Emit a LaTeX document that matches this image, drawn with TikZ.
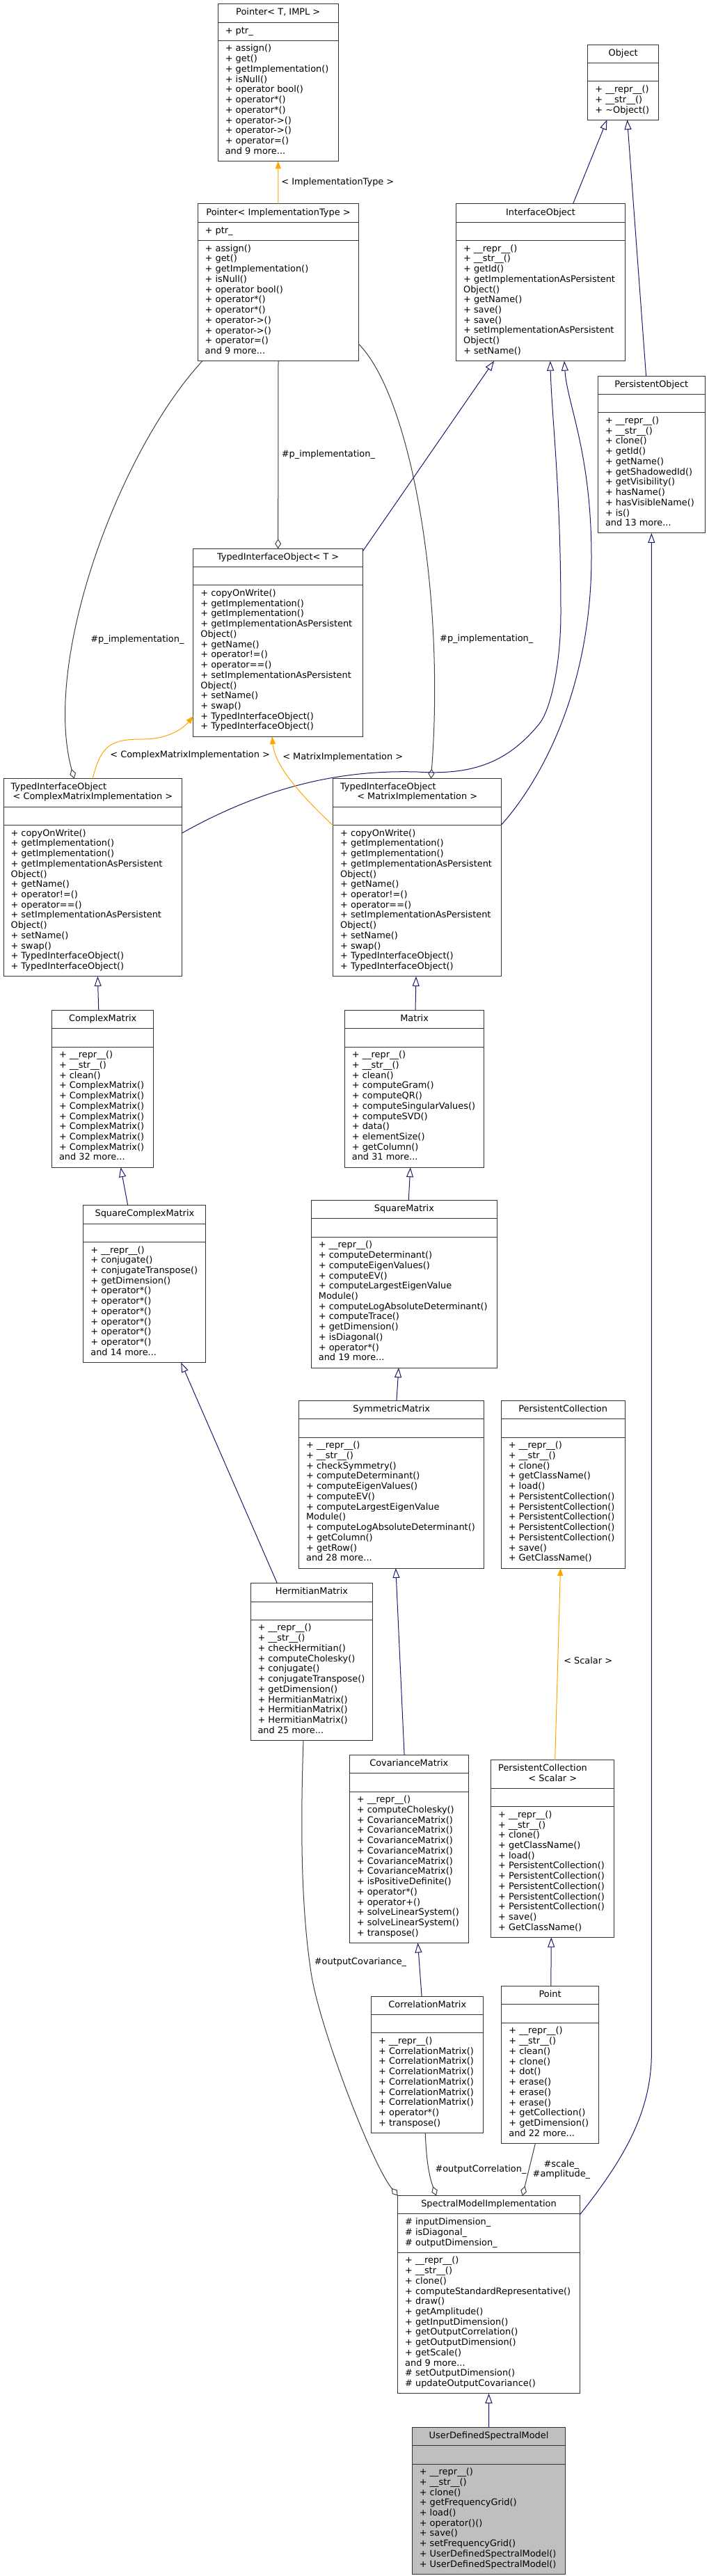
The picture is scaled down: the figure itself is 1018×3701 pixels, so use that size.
\documentclass[tikz,border=0pt]{standalone}
\usepackage{fontspec}
\setmainfont{DejaVu Sans}
\usetikzlibrary{arrows.meta,shapes.multipart,calc}
\definecolor{inhblue}{HTML}{191970}
\definecolor{tmplorange}{HTML}{FFA500}
\definecolor{usegray}{HTML}{404040}
\definecolor{boxline}{HTML}{333333}
\definecolor{rootfill}{HTML}{BFBFBF}
\begin{document}
\begin{tikzpicture}[x=1bp, y=-1bp, font=\fontsize{12.9bp}{14.73bp}\selectfont,
    cls/.style={rectangle split, rectangle split parts=3, rectangle split part align={center,left,left},
      draw=boxline, line width=1bp, fill=white, align=left, inner xsep=10.5bp, inner ysep=5.3bp,
      outer sep=0pt, anchor=north west, execute at begin node=\strut},
    inh/.style={draw=inhblue, line width=1bp, -{Triangle[open, length=14bp, width=10bp]}},
    tmpl/.style={draw=tmplorange, line width=1bp, -{Triangle[length=11bp, width=8bp]}},
    usage/.style={draw=usegray, line width=1bp, -{Diamond[open, length=14bp, width=9bp]}},
    lbl/.style={inner sep=0pt}]
\path[use as bounding box, fill=white] (0,0) rectangle (1018,3701);

\node[cls, minimum width=172.9bp] (ptrT) at (313.3,5.7) {Pointer< T, IMPL >\nodepart{two}+ ptr\_\nodepart{three}+ assign()\\
  + get()\\ + getImplementation()\\ + isNull()\\ + operator bool()\\ + operator*()\\ + operator*()\\
  + operator->()\\ + operator->()\\ + operator=()\\ and 9 more...\strut};
\node[cls, minimum width=101.5bp] (obj) at (844.9,64.3) {Object\nodepart{two}\nodepart{three}+ \_\_repr\_\_()\\
  + \_\_str\_\_()\\ + \textasciitilde Object()\strut};
\node[cls, minimum width=231.6bp] (ptrI) at (284.2,292.9) {Pointer< ImplementationType >\nodepart{two}+ ptr\_\nodepart{three}+ assign()\\
  + get()\\ + getImplementation()\\ + isNull()\\ + operator bool()\\ + operator*()\\ + operator*()\\
  + operator->()\\ + operator->()\\ + operator=()\\ and 9 more...\strut};
\node[cls, minimum width=242.9bp] (iobj) at (655.6,292.9) {InterfaceObject\nodepart{two}\nodepart{three}+ \_\_repr\_\_()\\
  + \_\_str\_\_()\\ + getId()\\ + getImplementationAsPersistent\\ Object()\\ + getName()\\ + save()\\ + save()\\
  + setImplementationAsPersistent\\ Object()\\ + setName()\strut};
\node[cls, minimum width=153.7bp] (pobj) at (859.5,540.2) {PersistentObject\nodepart{two}\nodepart{three}+ \_\_repr\_\_()\\
  + \_\_str\_\_()\\ + clone()\\ + getId()\\ + getName()\\ + getShadowedId()\\ + getVisibility()\\ + hasName()\\
  + hasVisibleName()\\ + is()\\ and 13 more...\strut};
\node[cls, minimum width=243.5bp] (tioT) at (277.9,788.2) {TypedInterfaceObject< T >\nodepart{two}\nodepart{three}+ copyOnWrite()\\
  + getImplementation()\\ + getImplementation()\\ + getImplementationAsPersistent\\ Object()\\ + getName()\\
  + operator!=()\\ + operator==()\\ + setImplementationAsPersistent\\ Object()\\ + setName()\\ + swap()\\
  + TypedInterfaceObject()\\ + TypedInterfaceObject()\strut};
\node[cls, minimum width=256.6bp] (tioC) at (5.1,1118.6) {\makebox[235.6bp][l]{TypedInterfaceObject}\\
  \makebox[235.6bp][c]{< ComplexMatrixImplementation >}\strut\nodepart{two}\nodepart{three}+ copyOnWrite()\\
  + getImplementation()\\ + getImplementation()\\ + getImplementationAsPersistent\\ Object()\\ + getName()\\
  + operator!=()\\ + operator==()\\ + setImplementationAsPersistent\\ Object()\\ + setName()\\ + swap()\\
  + TypedInterfaceObject()\\ + TypedInterfaceObject()\strut};
\node[cls, minimum width=242.3bp] (tioM) at (478.6,1118.6) {\makebox[221.3bp][l]{TypedInterfaceObject}\\
  \makebox[221.3bp][c]{< MatrixImplementation >}\strut\nodepart{two}\nodepart{three}+ copyOnWrite()\\
  + getImplementation()\\ + getImplementation()\\ + getImplementationAsPersistent\\ Object()\\ + getName()\\
  + operator!=()\\ + operator==()\\ + setImplementationAsPersistent\\ Object()\\ + setName()\\ + swap()\\
  + TypedInterfaceObject()\\ + TypedInterfaceObject()\strut};
\node[cls, minimum width=146.4bp] (cmat) at (74.5,1451.4) {ComplexMatrix\nodepart{two}\nodepart{three}+ \_\_repr\_\_()\\
  + \_\_str\_\_()\\ + clean()\\ + ComplexMatrix()\\ + ComplexMatrix()\\ + ComplexMatrix()\\ + ComplexMatrix()\\
  + ComplexMatrix()\\ + ComplexMatrix()\\ + ComplexMatrix()\\ and 32 more...\strut};
\node[cls, minimum width=200.5bp] (mat) at (495.4,1451.4) {Matrix\nodepart{two}\nodepart{three}+ \_\_repr\_\_()\\
  + \_\_str\_\_()\\ + clean()\\ + computeGram()\\ + computeQR()\\ + computeSingularValues()\\ + computeSVD()\\
  + data()\\ + elementSize()\\ + getColumn()\\ and 31 more...\strut};
\node[cls, minimum width=176bp] (scmat) at (119.9,1731.8) {SquareComplexMatrix\nodepart{two}\nodepart{three}+ \_\_repr\_\_()\\
  + conjugate()\\ + conjugateTranspose()\\ + getDimension()\\ + operator*()\\ + operator*()\\ + operator*()\\
  + operator*()\\ + operator*()\\ + operator*()\\ and 14 more...\strut};
\node[cls, minimum width=266.9bp] (smat) at (447.4,1724.6) {SquareMatrix\nodepart{two}\nodepart{three}+ \_\_repr\_\_()\\
  + computeDeterminant()\\ + computeEigenValues()\\ + computeEV()\\ + computeLargestEigenValue\\ Module()\\
  + computeLogAbsoluteDeterminant()\\ + computeTrace()\\ + getDimension()\\ + isDiagonal()\\ + operator*()\\
  and 19 more...\strut};
\node[cls, minimum width=266.3bp] (symat) at (429.6,2012.5) {SymmetricMatrix\nodepart{two}\nodepart{three}+ \_\_repr\_\_()\\
  + \_\_str\_\_()\\ + checkSymmetry()\\ + computeDeterminant()\\ + computeEigenValues()\\ + computeEV()\\
  + computeLargestEigenValue\\ Module()\\ + computeLogAbsoluteDeterminant()\\ + getColumn()\\ + getRow()\\
  and 28 more...\strut};
\node[cls, minimum width=177.7bp] (pcol) at (720.3,2012.5) {PersistentCollection\nodepart{two}\nodepart{three}+ \_\_repr\_\_()\\
  + \_\_str\_\_()\\ + clone()\\ + getClassName()\\ + load()\\ + PersistentCollection()\\ + PersistentCollection()\\
  + PersistentCollection()\\ + PersistentCollection()\\ + PersistentCollection()\\ + save()\\ + GetClassName()\strut};
\node[cls, minimum width=175.8bp] (hmat) at (360,2274.7) {HermitianMatrix\nodepart{two}\nodepart{three}+ \_\_repr\_\_()\\
  + \_\_str\_\_()\\ + checkHermitian()\\ + computeCholesky()\\ + conjugate()\\ + conjugateTranspose()\\
  + getDimension()\\ + HermitianMatrix()\\ + HermitianMatrix()\\ + HermitianMatrix()\\ and 25 more...\strut};
\node[cls, minimum width=170.8bp] (covmat) at (502.4,2521.5) {CovarianceMatrix\nodepart{two}\nodepart{three}+ \_\_repr\_\_()\\
  + computeCholesky()\\ + CovarianceMatrix()\\ + CovarianceMatrix()\\ + CovarianceMatrix()\\ + CovarianceMatrix()\\
  + CovarianceMatrix()\\ + CovarianceMatrix()\\ + isPositiveDefinite()\\ + operator*()\\ + operator+()\\
  + solveLinearSystem()\\ + solveLinearSystem()\\ + transpose()\strut};
\node[cls, minimum width=177.2bp] (pcolS) at (705.7,2528.8) {\makebox[156.2bp][l]{PersistentCollection}\\
  \makebox[156.2bp][c]{< Scalar >}\strut\nodepart{two}\nodepart{three}+ \_\_repr\_\_()\\
  + \_\_str\_\_()\\ + clone()\\ + getClassName()\\ + load()\\ + PersistentCollection()\\ + PersistentCollection()\\
  + PersistentCollection()\\ + PersistentCollection()\\ + PersistentCollection()\\ + save()\\ + GetClassName()\strut};
\node[cls, minimum width=161.2bp] (cormat) at (533.7,2868.2) {CorrelationMatrix\nodepart{two}\nodepart{three}+ \_\_repr\_\_()\\
  + CorrelationMatrix()\\ + CorrelationMatrix()\\ + CorrelationMatrix()\\ + CorrelationMatrix()\\
  + CorrelationMatrix()\\ + CorrelationMatrix()\\ + operator*()\\ + transpose()\strut};
\node[cls, minimum width=139.3bp] (pt) at (720.9,2853.6) {Point\nodepart{two}\nodepart{three}+ \_\_repr\_\_()\\
  + \_\_str\_\_()\\ + clean()\\ + clone()\\ + dot()\\ + erase()\\ + erase()\\ + erase()\\ + getCollection()\\
  + getDimension()\\ and 22 more...\strut};
\node[cls, minimum width=261.6bp] (smi) at (571.7,3154.6) {SpectralModelImplementation\nodepart{two}\# inputDimension\_\\
  \# isDiagonal\_\\ \# outputDimension\_\strut\nodepart{three}+ \_\_repr\_\_()\\
  + \_\_str\_\_()\\ + clone()\\ + computeStandardRepresentative()\\ + draw()\\ + getAmplitude()\\
  + getInputDimension()\\ + getOutputCorrelation()\\ + getOutputDimension()\\ + getScale()\\ and 9 more...\\
  \# setOutputDimension()\\ \# updateOutputCovariance()\strut};
\node[cls, minimum width=220.4bp, fill=rootfill] (udsm) at (592.3,3487.3) {UserDefinedSpectralModel\nodepart{two}\nodepart{three}+ \_\_repr\_\_()\\
  + \_\_str\_\_()\\ + clone()\\ + getFrequencyGrid()\\ + load()\\ + operator()()\\ + save()\\ + setFrequencyGrid()\\
  + UserDefinedSpectralModel()\\ + UserDefinedSpectralModel()\strut};

\draw[tmpl] (ptrI.north) -- (ptrT.south) node[midway, right=4bp, lbl]{< ImplementationType >};
\draw[inh] ($(iobj.north west)+(167.9,0)$) -- ($(obj.south west)+(27.5,0)$);
\draw[inh] ($(pobj.north west)+(69.1,0)$) -- ($(obj.south west)+(56.6,0)$);
\draw[usage] (ptrI.south) -- (tioT.north) node[midway, right=4.5bp, lbl]{\#p\_implementation\_};
\draw[usage] ($(ptrI.south west)+(6.6,0)$) .. controls (170,650) and (60,950) .. ($(tioC.north west)+(101.5,0)$)
    node[pos=0.67, right=23.5bp, lbl]{\#p\_implementation\_};
\draw[usage] ($(ptrI.north east)+(0,201.7)$) .. controls (590,570) and (640,850) .. ($(tioM.north west)+(140.8,0)$)
    node[pos=0.75, right=9.4bp, lbl]{\#p\_implementation\_};
\draw[inh] ($(tioT.north east)+(0,3.6)$) -- ($(iobj.south west)+(54.4,0)$);
\draw[inh] ($(tioC.north east)+(0,78.2)$) .. controls (390,1125) and (500,1106) .. (600,1109)
    .. controls (680,1114) and (730,1095) .. (775,1040) .. controls (790,1021.7) and (806,960) .. (806,880)
    .. controls (806,700) and (793,600) .. ($(iobj.south west)+(135.2,0)$);
\draw[inh] ($(tioM.north east)+(0,66)$) .. controls (770,1130) and (850,1000) .. (850,800)
    .. controls (850,650) and (815,580) .. ($(iobj.south west)+(155.4,0)$);
\draw[inh] ($(smi.north east)+(0,27.4)$) .. controls (890,3110) and (936.35,3040) .. (936.35,2950) -- (pobj.south);
\draw[inh] ($(cmat.north west)+(67.3,0)$) -- ($(tioC.south west)+(135.2,0)$);
\draw[inh] ($(mat.north west)+(101.6,0)$) -- ($(tioM.south west)+(119.4,0)$);
\draw[tmpl] ($(tioC.north west)+(128.1,0)$) .. controls (145,1070) and (160,1062) .. (205,1062)
    node[pos=0.3, right=12.5bp, lbl]{< ComplexMatrixImplementation >}
    .. controls (240,1062) and (262,1048) .. ($(tioT.north west)+(0,240.6)$);
\draw[tmpl] ($(tioM.north west)+(0,67.4)$) .. controls (430,1140) and (395,1100) .. ($(tioT.south west)+(113.1,0)$)
    node[pos=0.76, right=6.8bp, lbl]{< MatrixImplementation >};
\draw[inh] ($(scmat.north west)+(63.8,0)$) -- ($(cmat.south west)+(99,0)$);
\draw[inh] ($(smat.north west)+(139.8,0)$) -- ($(mat.south west)+(94.4,0)$);
\draw[inh] ($(symat.north west)+(140.3,0)$) -- ($(smat.south west)+(125.6,0)$);
\draw[inh] ($(hmat.north west)+(38.4,0)$) -- ($(scmat.south west)+(140.3,0)$);
\draw[inh] ($(covmat.north west)+(78.7,0)$) -- ($(symat.south west)+(139.2,0)$);
\draw[tmpl] ($(pcolS.north west)+(92,0)$) -- ($(pcol.south west)+(85.2,0)$) node[pos=0.52, right=8bp, lbl]{< Scalar >};
\draw[inh] ($(cormat.north west)+(72.4,0)$) -- ($(covmat.south west)+(98.1,0)$);
\draw[inh] ($(pt.north west)+(70.9,0)$) -- ($(pcolS.south west)+(86.6,0)$);
\draw[usage] ($(hmat.south west)+(76,0)$) .. controls (432,2620) and (432,2740) .. (448,2840)
    node[pos=0.93, right=6.5bp, lbl]{\#outputCovariance\_}
    .. controls (462,2920) and (535,3110) .. (smi.north west);
\draw[usage] ($(cormat.south west)+(77.5,0)$) .. controls (613,3110) and (618,3130) .. ($(smi.north west)+(55.3,0)$)
    node[pos=0.5, right=8.6bp, lbl]{\#outputCorrelation\_};
\draw[usage] ($(pt.south west)+(48.5,0)$) -- ($(smi.north west)+(179.3,0)$)
    node[midway, right=5bp, lbl, align=center]{\#scale\_\\\#amplitude\_};
\draw[inh] (udsm.north) -- (smi.south);

\end{tikzpicture}
\end{document}
